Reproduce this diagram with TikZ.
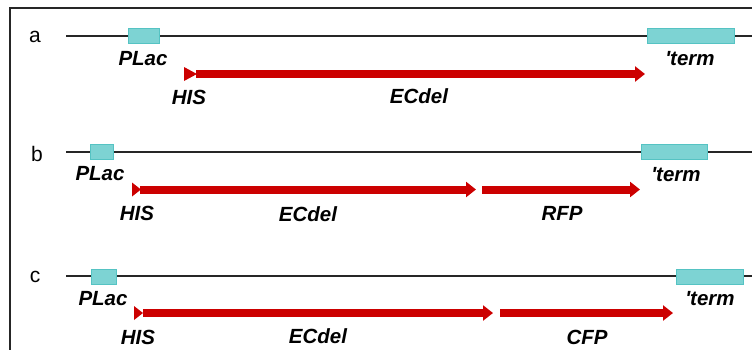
\documentclass[tikz,border=0pt]{standalone}
\usepackage{fontspec}
\setmainfont{Liberation Sans}
\usetikzlibrary{arrows.meta}
\definecolor{boxfill}{RGB}{125,211,211}
\definecolor{boxdraw}{RGB}{85,195,195}
\definecolor{arrred}{RGB}{204,0,0}
\tikzset{
  backbone/.style={line width=1.8pt, black!85},
  cbox/.style={draw=boxdraw, fill=boxfill, line width=1pt, minimum height=15pt, inner sep=0pt},
  lab/.style={font=\fontsize{20.5}{20.5}\selectfont\bfseries\itshape, inner sep=0pt},
  rowlab/.style={font=\fontsize{21}{21}\selectfont, inner sep=0pt},
  gene/.style={arrred, line width=8pt, -{Triangle[length=10pt,width=15pt]}},
  histri/.style={fill=arrred},
  frame/.style={draw=black!85, line width=1.2pt}
}
\begin{document}
\begin{tikzpicture}[x=1pt,y=-1pt]
\useasboundingbox (0,0) rectangle (752,349);
\clip (0,0) rectangle (752,349);
\draw[frame] (10,360) -- (10,8) -- (760,8);

% ---------- row a ----------
\node[rowlab] (ra) at (35,37) {a};
\coordinate (la0) at (66,36);
\coordinate (la1) at (760,36);
\draw[backbone] (la0) -- (la1);
\node[cbox, minimum width=31pt] (plA) at (143.5,36) {};
\node[cbox, minimum width=87pt] (tmA) at (690.5,36) {};
\node[lab] (plAl) at (143,59) {PLac};
\node[lab] (tmAl) at (690,59) {\textquotesingle term};
\coordinate (ga0) at (196,74);
\coordinate (ga1) at (645,74);
\fill[histri] (184,67) -- (197,74) -- (184,81) -- cycle;
\draw[gene] (ga0) -- (ga1);
\node[lab] (hisA) at (189,97) {HIS};
\node[lab] (ecA) at (419,96) {ECdel};

% ---------- row b ----------
\node[rowlab] (rb) at (37,154) {b};
\coordinate (lb0) at (66,152);
\coordinate (lb1) at (760,152);
\draw[backbone] (lb0) -- (lb1);
\node[cbox, minimum width=23pt] (plB) at (101.5,151.5) {};
\node[cbox, minimum width=66pt] (tmB) at (674,151.5) {};
\node[lab] (plBl) at (100,174) {PLac};
\node[lab] (tmBl) at (676,175) {\textquotesingle term};
\coordinate (gb0) at (140,189.5);
\coordinate (gb1) at (476,189.5);
\coordinate (gb2) at (482,189.5);
\coordinate (gb3) at (640,189.5);
\fill[histri] (132,182.5) -- (141,189.5) -- (132,196.5) -- cycle;
\draw[gene] (gb0) -- (gb1);
\draw[gene] (gb2) -- (gb3);
\node[lab] (hisB) at (137,213) {HIS};
\node[lab] (ecB) at (308,214) {ECdel};
\node[lab] (rfp) at (562,213) {RFP};

% ---------- row c ----------
\node[rowlab] (rc) at (35,277) {c};
\coordinate (lc0) at (66,276);
\coordinate (lc1) at (760,276);
\draw[backbone] (lc0) -- (lc1);
\node[cbox, minimum width=25pt] (plC) at (103.5,276.5) {};
\node[cbox, minimum width=67pt] (tmC) at (709.5,276.5) {};
\node[lab] (plCl) at (103,299) {PLac};
\node[lab] (tmCl) at (710,299) {\textquotesingle term};
\coordinate (gc0) at (143,313);
\coordinate (gc1) at (493,313);
\coordinate (gc2) at (500,313);
\coordinate (gc3) at (673,313);
\fill[histri] (134,306) -- (143,313) -- (134,320) -- cycle;
\draw[gene] (gc0) -- (gc1);
\draw[gene] (gc2) -- (gc3);
\node[lab] (hisC) at (138,337) {HIS};
\node[lab] (ecC) at (318,336) {ECdel};
\node[lab] (cfp) at (587,337) {CFP};
\end{tikzpicture}
\end{document}
